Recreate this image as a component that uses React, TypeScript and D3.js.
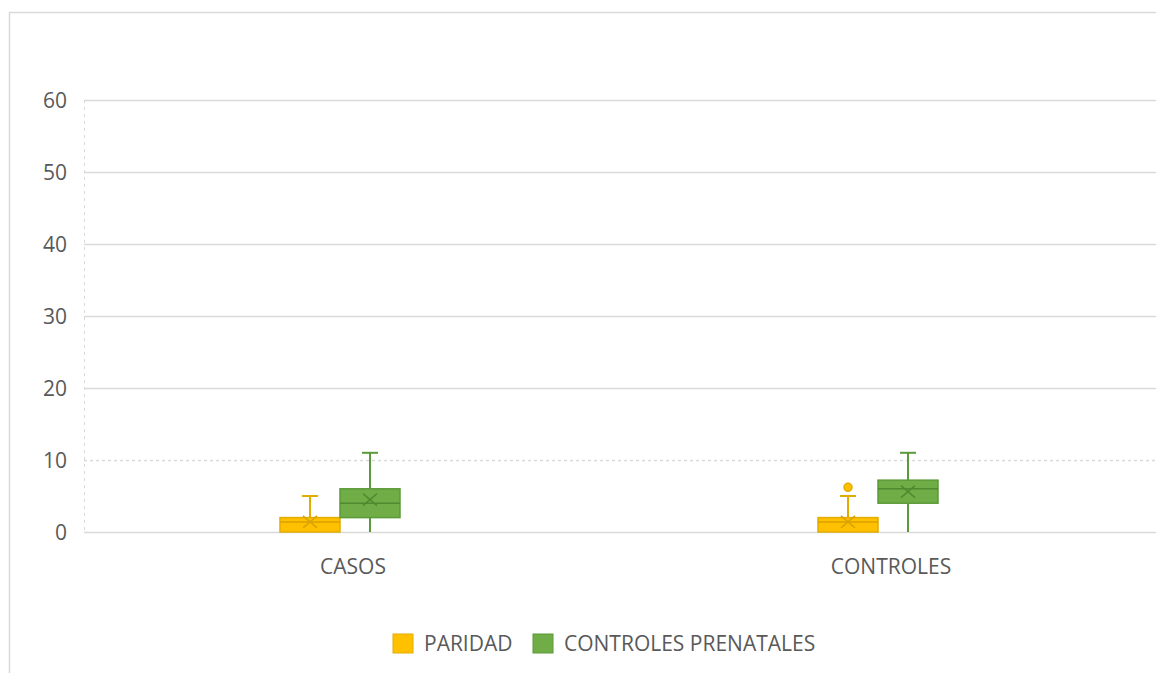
import React from "react";
import * as d3 from "d3";

const categories = ["CASOS", "CONTROLES"];
const seriesNames = ["PARIDAD", "CONTROLES PRENATALES"];
// [min, q1, median, q3, max, mean]
const paridadStats = [
  [0, 0, 1.4, 2, 5, 1.4],
  [0, 0, 1.4, 2, 5, 1.4],
];
const prenatalStats = [
  [0, 2, 4, 6, 11, 4.5],
  [0, 4, 6, 7.2, 11, 5.6],
];
const paridadOutliers = [[], [6.2]];
const prenatalOutliers = [[], []];
const yTicks = [0, 10, 20, 30, 40, 50, 60];

const W = 1156;
const H = 673;
const fills = ["#FFC000", "#70AD47"];
const strokes = ["#E3AC00", "#5A9A38"];
const darks = ["#D9A300", "#4F8A30"];

export default function App() {
  const left = 84;
  const right = 1160;
  const top = 100;
  const bottom = 532;
  const x = d3.scaleBand().domain(categories).range([left, right]);
  const y = d3.scaleLinear().domain([0, 60]).range([bottom, top]);
  const boxW = 60;
  const groupShift = -13;
  const series = [paridadStats, prenatalStats];
  const outl = [paridadOutliers, prenatalOutliers];
  const font = "'Open Sans', 'DejaVu Sans', sans-serif";

  return (
    <svg width={W} height={H} style={{ position: "absolute", left: 0, top: 0 }}>
      <rect x={0} y={0} width={W} height={H} fill="#fff" />
      <path d={`M9.5,${H} V12.5 H${W}`} fill="none" stroke="#d9d9d9" strokeWidth={1.5} />
      {yTicks.map((t) => (
        <g key={t}>
          <line
            x1={left}
            x2={W}
            y1={y(t) + 0.5}
            y2={y(t) + 0.5}
            stroke="#d9d9d9"
            strokeWidth={1.5}
            strokeDasharray={t === 10 ? "3,3" : undefined}
          />
          <text
            x={67}
            y={y(t) + 8}
            textAnchor="end"
            fontFamily={font}
            fontSize={21}
            fill="#595959"
          >
            {t}
          </text>
        </g>
      ))}
      <line x1={left + 0.5} x2={left + 0.5} y1={top} y2={bottom} stroke="#d9d9d9" strokeWidth={1} strokeDasharray="3,4" />
      {categories.map((c) => {
        const cx = (x(c) as number) + x.bandwidth() / 2;
        return (
          <text key={c} x={cx} y={574} textAnchor="middle" fontFamily={font} fontSize={21} fill="#595959">
            {c}
          </text>
        );
      })}
      {categories.map((c, ci) => {
        const center = (x(c) as number) + x.bandwidth() / 2 + groupShift;
        return series.map((s, si) => {
          const [mn, q1, med, q3, mx, mean] = s[ci];
          const x0 = center - boxW + si * boxW;
          const mid = x0 + boxW / 2;
          return (
            <g key={c + si}>
              <line x1={mid} x2={mid} y1={y(q3)} y2={y(mx)} stroke={strokes[si]} strokeWidth={2} />
              <line x1={mid} x2={mid} y1={y(q1)} y2={y(mn)} stroke={strokes[si]} strokeWidth={2} />
              <line x1={mid - 8} x2={mid + 8} y1={y(mx)} y2={y(mx)} stroke={strokes[si]} strokeWidth={2} />
              <rect
                x={x0}
                y={y(q3)}
                width={boxW}
                height={y(q1) - y(q3)}
                fill={fills[si]}
                stroke={strokes[si]}
                strokeWidth={1.5}
              />
              <line x1={x0} x2={x0 + boxW} y1={y(med)} y2={y(med)} stroke={darks[si]} strokeWidth={1.5} />
              <path
                d={`M${mid - 7},${y(mean) - 6} L${mid + 7},${y(mean) + 6} M${mid - 7},${y(mean) + 6} L${mid + 7},${y(mean) - 6}`}
                stroke={darks[si]}
                strokeWidth={1.5}
              />
              {outl[si][ci].map((o, oi) => (
                <circle key={oi} cx={mid} cy={y(o)} r={4} fill={fills[si]} stroke={strokes[si]} strokeWidth={1.5} />
              ))}
            </g>
          );
        });
      })}
      {seriesNames.map((n, i) => {
        const lx = [393, 533][i];
        return (
          <g key={n}>
            <rect x={lx} y={634} width={20} height={19} fill={fills[i]} stroke={strokes[i]} strokeWidth={1} />
            <text x={lx + 31} y={651} fontFamily={font} fontSize={21} fill="#595959">
              {n}
            </text>
          </g>
        );
      })}
    </svg>
  );
}
